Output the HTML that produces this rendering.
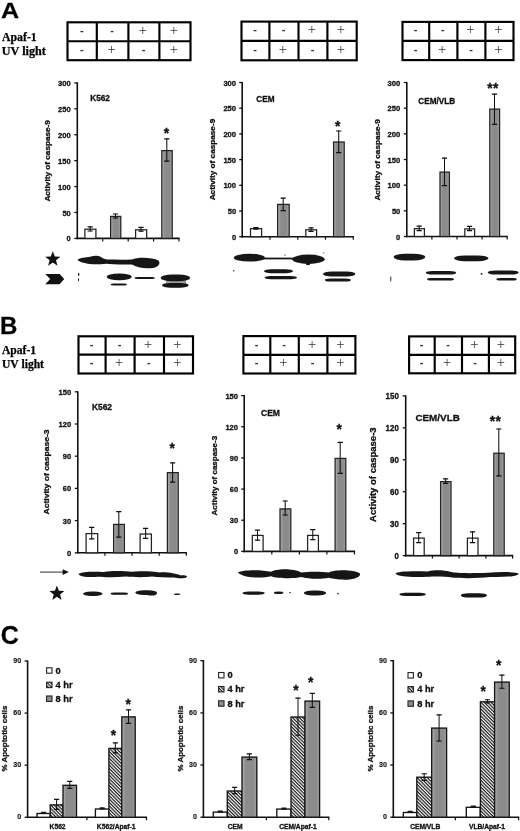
<!DOCTYPE html>
<html lang="en"><head><meta charset="utf-8"><title>Figure</title>
<style>html,body{margin:0;padding:0;background:#fff}svg{display:block}</style></head>
<body>
<svg width="520" height="831" viewBox="0 0 520 831">
<defs>
<linearGradient id="gbar" x1="0" x2="1" y1="0" y2="0">
<stop offset="0" stop-color="#b4b4b4"/><stop offset="0.28" stop-color="#8b8b8b"/><stop offset="0.75" stop-color="#8b8b8b"/><stop offset="1" stop-color="#a6a6a6"/>
</linearGradient>
<linearGradient id="gbar2" x1="0" x2="1" y1="0" y2="0">
<stop offset="0" stop-color="#b0b0b0"/><stop offset="0.25" stop-color="#8c8c8c"/><stop offset="0.78" stop-color="#8c8c8c"/><stop offset="1" stop-color="#a4a4a4"/>
</linearGradient>
<pattern id="hatch" width="2.4" height="2.4" patternUnits="userSpaceOnUse" patternTransform="rotate(45)">
<rect width="2.4" height="2.4" fill="#fff"/><rect width="2.4" height="1.2" fill="#1a1a1a"/>
</pattern>
<filter id="soft" x="-5%" y="-30%" width="110%" height="160%"><feGaussianBlur stdDeviation="0.5"/></filter>
</defs>
<rect width="520" height="831" fill="#fff"/>

<text transform="translate(0.9,18.4) scale(1.1,1)" font-family="Liberation Sans, sans-serif" font-weight="bold" stroke="#111" stroke-width="0.3" font-size="22.8" fill="#000">A</text>
<text transform="translate(-0.1,333.6) scale(1.0,1)" font-family="Liberation Sans, sans-serif" font-weight="bold" stroke="#111" stroke-width="0.3" font-size="24" fill="#000">B</text>
<text x="0.7" y="644" font-family="Liberation Sans, sans-serif" font-weight="bold" stroke="#111" stroke-width="0.3" font-size="25" fill="#000">C</text>
<text x="2" y="40.9" font-family="Liberation Serif, serif" font-weight="bold" stroke="#000" stroke-width="0.25" font-size="11.8" fill="#000">Apaf-1</text>
<text x="1.8" y="55.1" font-family="Liberation Serif, serif" font-weight="bold" stroke="#000" stroke-width="0.25" font-size="12.2" fill="#000">UV light</text>
<text x="2" y="354.3" font-family="Liberation Serif, serif" font-weight="bold" stroke="#000" stroke-width="0.25" font-size="11.6" fill="#000">Apaf-1</text>
<text x="2" y="368.4" font-family="Liberation Serif, serif" font-weight="bold" stroke="#000" stroke-width="0.25" font-size="11.6" fill="#000">UV light</text>
<rect x="67.5" y="22.3" width="123.0" height="37.9" fill="#fff" stroke="#000" stroke-width="2.15"/>
<line x1="96.8" y1="22.3" x2="96.8" y2="60.2" stroke="#000" stroke-width="2.15"/>
<line x1="128.4" y1="22.3" x2="128.4" y2="60.2" stroke="#000" stroke-width="2.15"/>
<line x1="159.4" y1="22.3" x2="159.4" y2="60.2" stroke="#000" stroke-width="2.15"/>
<line x1="67.5" y1="41.2" x2="190.5" y2="41.2" stroke="#000" stroke-width="2.15"/>
<text x="81.8" y="33.8" font-family="Liberation Sans, sans-serif" font-weight="bold" font-size="11" text-anchor="middle" fill="#333">-</text>
<text x="112.2" y="33.8" font-family="Liberation Sans, sans-serif" font-weight="bold" font-size="11" text-anchor="middle" fill="#333">-</text>
<text x="142.8" y="34.8" font-family="Liberation Serif, serif" font-size="14.5" text-anchor="middle" fill="#333">+</text>
<text x="173.8" y="34.8" font-family="Liberation Serif, serif" font-size="14.5" text-anchor="middle" fill="#333">+</text>
<text x="81.8" y="52.7" font-family="Liberation Sans, sans-serif" font-weight="bold" font-size="11" text-anchor="middle" fill="#333">-</text>
<text x="111.5" y="53.7" font-family="Liberation Serif, serif" font-size="14.5" text-anchor="middle" fill="#333">+</text>
<text x="143.5" y="52.7" font-family="Liberation Sans, sans-serif" font-weight="bold" font-size="11" text-anchor="middle" fill="#333">-</text>
<text x="173.8" y="53.7" font-family="Liberation Serif, serif" font-size="14.5" text-anchor="middle" fill="#333">+</text>
<rect x="241.5" y="21.6" width="115.2" height="38.7" fill="#fff" stroke="#000" stroke-width="2.15"/>
<line x1="269.4" y1="21.6" x2="269.4" y2="60.3" stroke="#000" stroke-width="2.15"/>
<line x1="298.5" y1="21.6" x2="298.5" y2="60.3" stroke="#000" stroke-width="2.15"/>
<line x1="327.4" y1="21.6" x2="327.4" y2="60.3" stroke="#000" stroke-width="2.15"/>
<line x1="241.5" y1="40.8" x2="356.7" y2="40.8" stroke="#000" stroke-width="2.15"/>
<text x="255.0" y="33.2" font-family="Liberation Sans, sans-serif" font-weight="bold" font-size="11" text-anchor="middle" fill="#333">-</text>
<text x="283.6" y="33.2" font-family="Liberation Sans, sans-serif" font-weight="bold" font-size="11" text-anchor="middle" fill="#333">-</text>
<text x="311.8" y="34.2" font-family="Liberation Serif, serif" font-size="14.5" text-anchor="middle" fill="#333">+</text>
<text x="340.9" y="34.2" font-family="Liberation Serif, serif" font-size="14.5" text-anchor="middle" fill="#333">+</text>
<text x="255.0" y="52.5" font-family="Liberation Sans, sans-serif" font-weight="bold" font-size="11" text-anchor="middle" fill="#333">-</text>
<text x="282.8" y="53.5" font-family="Liberation Serif, serif" font-size="14.5" text-anchor="middle" fill="#333">+</text>
<text x="312.6" y="52.5" font-family="Liberation Sans, sans-serif" font-weight="bold" font-size="11" text-anchor="middle" fill="#333">-</text>
<text x="340.9" y="53.5" font-family="Liberation Serif, serif" font-size="14.5" text-anchor="middle" fill="#333">+</text>
<rect x="402.5" y="21.9" width="111.0" height="38.2" fill="#fff" stroke="#000" stroke-width="2.15"/>
<line x1="429.2" y1="21.9" x2="429.2" y2="60.1" stroke="#000" stroke-width="2.15"/>
<line x1="457.4" y1="21.9" x2="457.4" y2="60.1" stroke="#000" stroke-width="2.15"/>
<line x1="485.4" y1="21.9" x2="485.4" y2="60.1" stroke="#000" stroke-width="2.15"/>
<line x1="402.5" y1="40.9" x2="513.5" y2="40.9" stroke="#000" stroke-width="2.15"/>
<text x="415.5" y="33.4" font-family="Liberation Sans, sans-serif" font-weight="bold" font-size="11" text-anchor="middle" fill="#333">-</text>
<text x="442.9" y="33.4" font-family="Liberation Sans, sans-serif" font-weight="bold" font-size="11" text-anchor="middle" fill="#333">-</text>
<text x="470.3" y="34.4" font-family="Liberation Serif, serif" font-size="14.5" text-anchor="middle" fill="#333">+</text>
<text x="498.3" y="34.4" font-family="Liberation Serif, serif" font-size="14.5" text-anchor="middle" fill="#333">+</text>
<text x="415.5" y="52.5" font-family="Liberation Sans, sans-serif" font-weight="bold" font-size="11" text-anchor="middle" fill="#333">-</text>
<text x="442.2" y="53.5" font-family="Liberation Serif, serif" font-size="14.5" text-anchor="middle" fill="#333">+</text>
<text x="471.0" y="52.5" font-family="Liberation Sans, sans-serif" font-weight="bold" font-size="11" text-anchor="middle" fill="#333">-</text>
<text x="498.3" y="53.5" font-family="Liberation Serif, serif" font-size="14.5" text-anchor="middle" fill="#333">+</text>
<rect x="78.5" y="336.3" width="114.5" height="37.2" fill="#fff" stroke="#000" stroke-width="2.15"/>
<line x1="105.6" y1="336.3" x2="105.6" y2="373.5" stroke="#000" stroke-width="2.15"/>
<line x1="134.6" y1="336.3" x2="134.6" y2="373.5" stroke="#000" stroke-width="2.15"/>
<line x1="164" y1="336.3" x2="164" y2="373.5" stroke="#000" stroke-width="2.15"/>
<line x1="78.5" y1="354.6" x2="193" y2="354.6" stroke="#000" stroke-width="2.15"/>
<text x="91.6" y="347.5" font-family="Liberation Sans, sans-serif" font-weight="bold" font-size="11" text-anchor="middle" fill="#333">-</text>
<text x="119.7" y="347.5" font-family="Liberation Sans, sans-serif" font-weight="bold" font-size="11" text-anchor="middle" fill="#333">-</text>
<text x="148.2" y="348.5" font-family="Liberation Serif, serif" font-size="14.5" text-anchor="middle" fill="#333">+</text>
<text x="177.4" y="348.5" font-family="Liberation Serif, serif" font-size="14.5" text-anchor="middle" fill="#333">+</text>
<text x="91.6" y="366.1" font-family="Liberation Sans, sans-serif" font-weight="bold" font-size="11" text-anchor="middle" fill="#333">-</text>
<text x="119.0" y="367.1" font-family="Liberation Serif, serif" font-size="14.5" text-anchor="middle" fill="#333">+</text>
<text x="148.9" y="366.1" font-family="Liberation Sans, sans-serif" font-weight="bold" font-size="11" text-anchor="middle" fill="#333">-</text>
<text x="177.4" y="367.1" font-family="Liberation Serif, serif" font-size="14.5" text-anchor="middle" fill="#333">+</text>
<rect x="243.4" y="336.1" width="112.0" height="37.4" fill="#fff" stroke="#000" stroke-width="2.15"/>
<line x1="270.3" y1="336.1" x2="270.3" y2="373.5" stroke="#000" stroke-width="2.15"/>
<line x1="298.8" y1="336.1" x2="298.8" y2="373.5" stroke="#000" stroke-width="2.15"/>
<line x1="327.4" y1="336.1" x2="327.4" y2="373.5" stroke="#000" stroke-width="2.15"/>
<line x1="243.4" y1="354.9" x2="355.4" y2="354.9" stroke="#000" stroke-width="2.15"/>
<text x="256.5" y="347.5" font-family="Liberation Sans, sans-serif" font-weight="bold" font-size="11" text-anchor="middle" fill="#333">-</text>
<text x="284.2" y="347.5" font-family="Liberation Sans, sans-serif" font-weight="bold" font-size="11" text-anchor="middle" fill="#333">-</text>
<text x="312.0" y="348.5" font-family="Liberation Serif, serif" font-size="14.5" text-anchor="middle" fill="#333">+</text>
<text x="340.3" y="348.5" font-family="Liberation Serif, serif" font-size="14.5" text-anchor="middle" fill="#333">+</text>
<text x="256.5" y="366.2" font-family="Liberation Sans, sans-serif" font-weight="bold" font-size="11" text-anchor="middle" fill="#333">-</text>
<text x="283.4" y="367.2" font-family="Liberation Serif, serif" font-size="14.5" text-anchor="middle" fill="#333">+</text>
<text x="312.7" y="366.2" font-family="Liberation Sans, sans-serif" font-weight="bold" font-size="11" text-anchor="middle" fill="#333">-</text>
<text x="340.3" y="367.2" font-family="Liberation Serif, serif" font-size="14.5" text-anchor="middle" fill="#333">+</text>
<rect x="409.1" y="336.4" width="106.1" height="36.9" fill="#fff" stroke="#000" stroke-width="2.15"/>
<line x1="434.7" y1="336.4" x2="434.7" y2="373.3" stroke="#000" stroke-width="2.15"/>
<line x1="462" y1="336.4" x2="462" y2="373.3" stroke="#000" stroke-width="2.15"/>
<line x1="488.9" y1="336.4" x2="488.9" y2="373.3" stroke="#000" stroke-width="2.15"/>
<line x1="409.1" y1="354.8" x2="515.2" y2="354.8" stroke="#000" stroke-width="2.15"/>
<text x="421.5" y="347.6" font-family="Liberation Sans, sans-serif" font-weight="bold" font-size="11" text-anchor="middle" fill="#333">-</text>
<text x="448.0" y="347.6" font-family="Liberation Sans, sans-serif" font-weight="bold" font-size="11" text-anchor="middle" fill="#333">-</text>
<text x="474.3" y="348.6" font-family="Liberation Serif, serif" font-size="14.5" text-anchor="middle" fill="#333">+</text>
<text x="500.9" y="348.6" font-family="Liberation Serif, serif" font-size="14.5" text-anchor="middle" fill="#333">+</text>
<text x="421.5" y="366.1" font-family="Liberation Sans, sans-serif" font-weight="bold" font-size="11" text-anchor="middle" fill="#333">-</text>
<text x="447.2" y="367.1" font-family="Liberation Serif, serif" font-size="14.5" text-anchor="middle" fill="#333">+</text>
<text x="475.1" y="366.1" font-family="Liberation Sans, sans-serif" font-weight="bold" font-size="11" text-anchor="middle" fill="#333">-</text>
<text x="500.9" y="367.1" font-family="Liberation Serif, serif" font-size="14.5" text-anchor="middle" fill="#333">+</text>
<line x1="77.3" y1="82.30000000000001" x2="77.3" y2="239.20000000000002" stroke="#111" stroke-width="1.6"/>
<line x1="76.5" y1="238.4" x2="179.6" y2="238.4" stroke="#111" stroke-width="1.6"/>
<line x1="74.3" y1="82.9" x2="77.3" y2="82.9" stroke="#111" stroke-width="1.3"/>
<text x="58.1" y="85.9" font-family="Liberation Sans, sans-serif" font-weight="bold" stroke="#111" stroke-width="0.3" font-size="8.1" textLength="12.7" lengthAdjust="spacingAndGlyphs" fill="#111">300</text>
<line x1="74.3" y1="108.82" x2="77.3" y2="108.82" stroke="#111" stroke-width="1.3"/>
<text x="58.1" y="111.8" font-family="Liberation Sans, sans-serif" font-weight="bold" stroke="#111" stroke-width="0.3" font-size="8.1" textLength="12.7" lengthAdjust="spacingAndGlyphs" fill="#111">250</text>
<line x1="74.3" y1="134.73" x2="77.3" y2="134.73" stroke="#111" stroke-width="1.3"/>
<text x="58.1" y="137.7" font-family="Liberation Sans, sans-serif" font-weight="bold" stroke="#111" stroke-width="0.3" font-size="8.1" textLength="12.7" lengthAdjust="spacingAndGlyphs" fill="#111">200</text>
<line x1="74.3" y1="160.65" x2="77.3" y2="160.65" stroke="#111" stroke-width="1.3"/>
<text x="58.1" y="163.7" font-family="Liberation Sans, sans-serif" font-weight="bold" stroke="#111" stroke-width="0.3" font-size="8.1" textLength="12.7" lengthAdjust="spacingAndGlyphs" fill="#111">150</text>
<line x1="74.3" y1="186.57" x2="77.3" y2="186.57" stroke="#111" stroke-width="1.3"/>
<text x="58.1" y="189.6" font-family="Liberation Sans, sans-serif" font-weight="bold" stroke="#111" stroke-width="0.3" font-size="8.1" textLength="12.7" lengthAdjust="spacingAndGlyphs" fill="#111">100</text>
<line x1="74.3" y1="212.48" x2="77.3" y2="212.48" stroke="#111" stroke-width="1.3"/>
<text x="62.4" y="215.5" font-family="Liberation Sans, sans-serif" font-weight="bold" stroke="#111" stroke-width="0.3" font-size="8.1" textLength="8.4" lengthAdjust="spacingAndGlyphs" fill="#111">50</text>
<line x1="74.3" y1="238.4" x2="77.3" y2="238.4" stroke="#111" stroke-width="1.3"/>
<text x="66.6" y="241.4" font-family="Liberation Sans, sans-serif" font-weight="bold" stroke="#111" stroke-width="0.3" font-size="8.1" textLength="4.2" lengthAdjust="spacingAndGlyphs" fill="#111">0</text>
<line x1="102.7" y1="238.4" x2="102.7" y2="241.4" stroke="#111" stroke-width="1.2"/>
<line x1="128.2" y1="238.4" x2="128.2" y2="241.4" stroke="#111" stroke-width="1.2"/>
<line x1="153.6" y1="238.4" x2="153.6" y2="241.4" stroke="#111" stroke-width="1.2"/>
<line x1="179.0" y1="238.4" x2="179.0" y2="241.4" stroke="#111" stroke-width="1.2"/>
<rect x="84.9" y="229.2" width="11.0" height="9.2" fill="#fff" stroke="#222" stroke-width="1.25"/>
<path d="M90.2 226.4V231.4" stroke="#111" stroke-width="1.05" fill="none"/><path d="M87.6 226.8H92.8M87.6 231.0H92.8" stroke="#111" stroke-width="1.2" fill="none"/>
<rect x="110.6" y="216.4" width="10.2" height="22.0" fill="url(#gbar)" stroke="#222" stroke-width="1.25"/>
<path d="M115.5 213.6V218.4" stroke="#111" stroke-width="1.05" fill="none"/><path d="M112.9 214.0H118.1M112.9 218.0H118.1" stroke="#111" stroke-width="1.2" fill="none"/>
<rect x="135.6" y="229.8" width="11.1" height="8.6" fill="#fff" stroke="#222" stroke-width="1.25"/>
<path d="M141.0 227.0V231.6" stroke="#111" stroke-width="1.05" fill="none"/><path d="M138.4 227.4H143.6M138.4 231.2H143.6" stroke="#111" stroke-width="1.2" fill="none"/>
<rect x="161.8" y="150.6" width="10.4" height="87.8" fill="url(#gbar)" stroke="#222" stroke-width="1.25"/>
<path d="M166.8 138.5V161.5" stroke="#111" stroke-width="1.05" fill="none"/><path d="M164.2 138.9H169.4M164.2 161.1H169.4" stroke="#111" stroke-width="1.2" fill="none"/>
<text x="90.3" y="101.4" font-family="Liberation Sans, sans-serif" font-weight="bold" stroke="#111" stroke-width="0.3" font-size="8.2" fill="#111">K562</text>
<text transform="translate(50.4,201.6) rotate(-90)" font-family="Liberation Sans, sans-serif" font-weight="bold" stroke="#111" stroke-width="0.3" font-size="7.8" textLength="81.5" lengthAdjust="spacingAndGlyphs" fill="#111">Activity of caspase-9</text>
<text x="166.6" y="138.2" font-family="Liberation Sans, sans-serif" font-weight="bold" stroke="#111" stroke-width="0.3" font-size="13.8" letter-spacing="0.4" text-anchor="middle" fill="#111">*</text>
<line x1="242.2" y1="81.9" x2="242.2" y2="237.5" stroke="#111" stroke-width="1.6"/>
<line x1="241.39999999999998" y1="236.7" x2="353.90000000000003" y2="236.7" stroke="#111" stroke-width="1.6"/>
<line x1="239.2" y1="82.5" x2="242.2" y2="82.5" stroke="#111" stroke-width="1.3"/>
<text x="223.4" y="85.5" font-family="Liberation Sans, sans-serif" font-weight="bold" stroke="#111" stroke-width="0.3" font-size="8.1" textLength="12.7" lengthAdjust="spacingAndGlyphs" fill="#111">300</text>
<line x1="239.2" y1="108.2" x2="242.2" y2="108.2" stroke="#111" stroke-width="1.3"/>
<text x="223.4" y="111.2" font-family="Liberation Sans, sans-serif" font-weight="bold" stroke="#111" stroke-width="0.3" font-size="8.1" textLength="12.7" lengthAdjust="spacingAndGlyphs" fill="#111">250</text>
<line x1="239.2" y1="133.9" x2="242.2" y2="133.9" stroke="#111" stroke-width="1.3"/>
<text x="223.4" y="136.9" font-family="Liberation Sans, sans-serif" font-weight="bold" stroke="#111" stroke-width="0.3" font-size="8.1" textLength="12.7" lengthAdjust="spacingAndGlyphs" fill="#111">200</text>
<line x1="239.2" y1="159.6" x2="242.2" y2="159.6" stroke="#111" stroke-width="1.3"/>
<text x="223.4" y="162.6" font-family="Liberation Sans, sans-serif" font-weight="bold" stroke="#111" stroke-width="0.3" font-size="8.1" textLength="12.7" lengthAdjust="spacingAndGlyphs" fill="#111">150</text>
<line x1="239.2" y1="185.3" x2="242.2" y2="185.3" stroke="#111" stroke-width="1.3"/>
<text x="223.4" y="188.3" font-family="Liberation Sans, sans-serif" font-weight="bold" stroke="#111" stroke-width="0.3" font-size="8.1" textLength="12.7" lengthAdjust="spacingAndGlyphs" fill="#111">100</text>
<line x1="239.2" y1="211.0" x2="242.2" y2="211.0" stroke="#111" stroke-width="1.3"/>
<text x="227.7" y="214.0" font-family="Liberation Sans, sans-serif" font-weight="bold" stroke="#111" stroke-width="0.3" font-size="8.1" textLength="8.4" lengthAdjust="spacingAndGlyphs" fill="#111">50</text>
<line x1="239.2" y1="236.7" x2="242.2" y2="236.7" stroke="#111" stroke-width="1.3"/>
<text x="231.9" y="239.7" font-family="Liberation Sans, sans-serif" font-weight="bold" stroke="#111" stroke-width="0.3" font-size="8.1" textLength="4.2" lengthAdjust="spacingAndGlyphs" fill="#111">0</text>
<line x1="270.0" y1="236.7" x2="270.0" y2="239.7" stroke="#111" stroke-width="1.2"/>
<line x1="297.8" y1="236.7" x2="297.8" y2="239.7" stroke="#111" stroke-width="1.2"/>
<line x1="325.5" y1="236.7" x2="325.5" y2="239.7" stroke="#111" stroke-width="1.2"/>
<line x1="353.3" y1="236.7" x2="353.3" y2="239.7" stroke="#111" stroke-width="1.2"/>
<rect x="250.5" y="228.6" width="11.1" height="8.1" fill="#fff" stroke="#222" stroke-width="1.25"/>
<path d="M255.9 227.1V229.5" stroke="#111" stroke-width="1.05" fill="none"/><path d="M253.3 227.5H258.5M253.3 229.1H258.5" stroke="#111" stroke-width="1.2" fill="none"/>
<rect x="277.6" y="204.4" width="11.6" height="32.3" fill="url(#gbar)" stroke="#222" stroke-width="1.25"/>
<path d="M283.2 197.7V211.0" stroke="#111" stroke-width="1.05" fill="none"/><path d="M280.6 198.1H285.8M280.6 210.6H285.8" stroke="#111" stroke-width="1.2" fill="none"/>
<rect x="305.8" y="229.8" width="10.8" height="6.9" fill="#fff" stroke="#222" stroke-width="1.25"/>
<path d="M311.0 227.4V231.8" stroke="#111" stroke-width="1.05" fill="none"/><path d="M308.4 227.8H313.6M308.4 231.4H313.6" stroke="#111" stroke-width="1.2" fill="none"/>
<rect x="333.6" y="142.0" width="10.6" height="94.7" fill="url(#gbar)" stroke="#222" stroke-width="1.25"/>
<path d="M338.7 130.6V153.0" stroke="#111" stroke-width="1.05" fill="none"/><path d="M336.1 131.0H341.3M336.1 152.6H341.3" stroke="#111" stroke-width="1.2" fill="none"/>
<text x="256.3" y="101.8" font-family="Liberation Sans, sans-serif" font-weight="bold" stroke="#111" stroke-width="0.3" font-size="8.2" fill="#111">CEM</text>
<text transform="translate(215.1,200.3) rotate(-90)" font-family="Liberation Sans, sans-serif" font-weight="bold" stroke="#111" stroke-width="0.3" font-size="7.8" textLength="81.5" lengthAdjust="spacingAndGlyphs" fill="#111">Activity of caspase-9</text>
<text x="337.9" y="131.1" font-family="Liberation Sans, sans-serif" font-weight="bold" stroke="#111" stroke-width="0.3" font-size="13.8" letter-spacing="0.4" text-anchor="middle" fill="#111">*</text>
<line x1="406.8" y1="81.9" x2="406.8" y2="237.3" stroke="#111" stroke-width="1.6"/>
<line x1="406.0" y1="236.5" x2="507.8" y2="236.5" stroke="#111" stroke-width="1.6"/>
<line x1="403.8" y1="82.5" x2="406.8" y2="82.5" stroke="#111" stroke-width="1.3"/>
<text x="387.6" y="85.5" font-family="Liberation Sans, sans-serif" font-weight="bold" stroke="#111" stroke-width="0.3" font-size="8.1" textLength="12.7" lengthAdjust="spacingAndGlyphs" fill="#111">300</text>
<line x1="403.8" y1="108.17" x2="406.8" y2="108.17" stroke="#111" stroke-width="1.3"/>
<text x="387.6" y="111.2" font-family="Liberation Sans, sans-serif" font-weight="bold" stroke="#111" stroke-width="0.3" font-size="8.1" textLength="12.7" lengthAdjust="spacingAndGlyphs" fill="#111">250</text>
<line x1="403.8" y1="133.83" x2="406.8" y2="133.83" stroke="#111" stroke-width="1.3"/>
<text x="387.6" y="136.8" font-family="Liberation Sans, sans-serif" font-weight="bold" stroke="#111" stroke-width="0.3" font-size="8.1" textLength="12.7" lengthAdjust="spacingAndGlyphs" fill="#111">200</text>
<line x1="403.8" y1="159.5" x2="406.8" y2="159.5" stroke="#111" stroke-width="1.3"/>
<text x="387.6" y="162.5" font-family="Liberation Sans, sans-serif" font-weight="bold" stroke="#111" stroke-width="0.3" font-size="8.1" textLength="12.7" lengthAdjust="spacingAndGlyphs" fill="#111">150</text>
<line x1="403.8" y1="185.17" x2="406.8" y2="185.17" stroke="#111" stroke-width="1.3"/>
<text x="387.6" y="188.2" font-family="Liberation Sans, sans-serif" font-weight="bold" stroke="#111" stroke-width="0.3" font-size="8.1" textLength="12.7" lengthAdjust="spacingAndGlyphs" fill="#111">100</text>
<line x1="403.8" y1="210.83" x2="406.8" y2="210.83" stroke="#111" stroke-width="1.3"/>
<text x="391.9" y="213.8" font-family="Liberation Sans, sans-serif" font-weight="bold" stroke="#111" stroke-width="0.3" font-size="8.1" textLength="8.4" lengthAdjust="spacingAndGlyphs" fill="#111">50</text>
<line x1="403.8" y1="236.5" x2="406.8" y2="236.5" stroke="#111" stroke-width="1.3"/>
<text x="396.1" y="239.5" font-family="Liberation Sans, sans-serif" font-weight="bold" stroke="#111" stroke-width="0.3" font-size="8.1" textLength="4.2" lengthAdjust="spacingAndGlyphs" fill="#111">0</text>
<line x1="431.9" y1="236.5" x2="431.9" y2="239.5" stroke="#111" stroke-width="1.2"/>
<line x1="457.0" y1="236.5" x2="457.0" y2="239.5" stroke="#111" stroke-width="1.2"/>
<line x1="482.1" y1="236.5" x2="482.1" y2="239.5" stroke="#111" stroke-width="1.2"/>
<line x1="507.2" y1="236.5" x2="507.2" y2="239.5" stroke="#111" stroke-width="1.2"/>
<rect x="414.4" y="228.7" width="10.0" height="7.8" fill="#fff" stroke="#222" stroke-width="1.25"/>
<path d="M419.2 225.8V231.0" stroke="#111" stroke-width="1.05" fill="none"/><path d="M416.6 226.2H421.8M416.6 230.6H421.8" stroke="#111" stroke-width="1.2" fill="none"/>
<rect x="440.0" y="172.1" width="9.4" height="64.4" fill="url(#gbar)" stroke="#222" stroke-width="1.25"/>
<path d="M444.5 157.7V186.0" stroke="#111" stroke-width="1.05" fill="none"/><path d="M441.9 158.1H447.1M441.9 185.6H447.1" stroke="#111" stroke-width="1.2" fill="none"/>
<rect x="464.8" y="228.9" width="9.8" height="7.6" fill="#fff" stroke="#222" stroke-width="1.25"/>
<path d="M469.5 226.0V231.0" stroke="#111" stroke-width="1.05" fill="none"/><path d="M466.9 226.4H472.1M466.9 230.6H472.1" stroke="#111" stroke-width="1.2" fill="none"/>
<rect x="489.8" y="109.1" width="9.8" height="127.4" fill="url(#gbar)" stroke="#222" stroke-width="1.25"/>
<path d="M494.5 93.7V124.8" stroke="#111" stroke-width="1.05" fill="none"/><path d="M491.9 94.1H497.1M491.9 124.4H497.1" stroke="#111" stroke-width="1.2" fill="none"/>
<text x="418.3" y="103.9" font-family="Liberation Sans, sans-serif" font-weight="bold" stroke="#111" stroke-width="0.3" font-size="8.2" fill="#111">CEM/VLB</text>
<text transform="translate(380.2,200.6) rotate(-90)" font-family="Liberation Sans, sans-serif" font-weight="bold" stroke="#111" stroke-width="0.3" font-size="7.8" textLength="81.5" lengthAdjust="spacingAndGlyphs" fill="#111">Activity of caspase-9</text>
<text x="493.1" y="92.6" font-family="Liberation Sans, sans-serif" font-weight="bold" stroke="#111" stroke-width="0.3" font-size="13.8" letter-spacing="0.4" text-anchor="middle" fill="#111">**</text>
<line x1="77.8" y1="391.2" x2="77.8" y2="553.5999999999999" stroke="#111" stroke-width="1.6"/>
<line x1="77.0" y1="552.8" x2="186.9" y2="552.8" stroke="#111" stroke-width="1.6"/>
<line x1="74.8" y1="391.8" x2="77.8" y2="391.8" stroke="#111" stroke-width="1.3"/>
<text x="58.5" y="394.8" font-family="Liberation Sans, sans-serif" font-weight="bold" stroke="#111" stroke-width="0.3" font-size="8.1" textLength="12.7" lengthAdjust="spacingAndGlyphs" fill="#111">150</text>
<line x1="74.8" y1="424.0" x2="77.8" y2="424.0" stroke="#111" stroke-width="1.3"/>
<text x="58.5" y="427.0" font-family="Liberation Sans, sans-serif" font-weight="bold" stroke="#111" stroke-width="0.3" font-size="8.1" textLength="12.7" lengthAdjust="spacingAndGlyphs" fill="#111">120</text>
<line x1="74.8" y1="456.2" x2="77.8" y2="456.2" stroke="#111" stroke-width="1.3"/>
<text x="62.8" y="459.2" font-family="Liberation Sans, sans-serif" font-weight="bold" stroke="#111" stroke-width="0.3" font-size="8.1" textLength="8.4" lengthAdjust="spacingAndGlyphs" fill="#111">90</text>
<line x1="74.8" y1="488.4" x2="77.8" y2="488.4" stroke="#111" stroke-width="1.3"/>
<text x="62.8" y="491.4" font-family="Liberation Sans, sans-serif" font-weight="bold" stroke="#111" stroke-width="0.3" font-size="8.1" textLength="8.4" lengthAdjust="spacingAndGlyphs" fill="#111">60</text>
<line x1="74.8" y1="520.6" x2="77.8" y2="520.6" stroke="#111" stroke-width="1.3"/>
<text x="62.8" y="523.6" font-family="Liberation Sans, sans-serif" font-weight="bold" stroke="#111" stroke-width="0.3" font-size="8.1" textLength="8.4" lengthAdjust="spacingAndGlyphs" fill="#111">30</text>
<line x1="74.8" y1="552.8" x2="77.8" y2="552.8" stroke="#111" stroke-width="1.3"/>
<text x="67.0" y="555.8" font-family="Liberation Sans, sans-serif" font-weight="bold" stroke="#111" stroke-width="0.3" font-size="8.1" textLength="4.2" lengthAdjust="spacingAndGlyphs" fill="#111">0</text>
<line x1="104.9" y1="552.8" x2="104.9" y2="555.8" stroke="#111" stroke-width="1.2"/>
<line x1="132.1" y1="552.8" x2="132.1" y2="555.8" stroke="#111" stroke-width="1.2"/>
<line x1="159.2" y1="552.8" x2="159.2" y2="555.8" stroke="#111" stroke-width="1.2"/>
<line x1="186.3" y1="552.8" x2="186.3" y2="555.8" stroke="#111" stroke-width="1.2"/>
<rect x="86.1" y="533.6" width="11.6" height="19.2" fill="#fff" stroke="#222" stroke-width="1.25"/>
<path d="M91.7 527.0V539.3" stroke="#111" stroke-width="1.05" fill="none"/><path d="M89.1 527.4H94.3M89.1 538.9H94.3" stroke="#111" stroke-width="1.2" fill="none"/>
<rect x="113.6" y="524.4" width="10.8" height="28.4" fill="url(#gbar)" stroke="#222" stroke-width="1.25"/>
<path d="M118.8 511.3V537.5" stroke="#111" stroke-width="1.05" fill="none"/><path d="M116.2 511.7H121.4M116.2 537.1H121.4" stroke="#111" stroke-width="1.2" fill="none"/>
<rect x="140.1" y="534.0" width="11.3" height="18.8" fill="#fff" stroke="#222" stroke-width="1.25"/>
<path d="M145.6 528.0V538.8" stroke="#111" stroke-width="1.05" fill="none"/><path d="M143.0 528.4H148.2M143.0 538.4H148.2" stroke="#111" stroke-width="1.2" fill="none"/>
<rect x="167.4" y="472.6" width="10.8" height="80.2" fill="url(#gbar)" stroke="#222" stroke-width="1.25"/>
<path d="M172.6 462.5V482.5" stroke="#111" stroke-width="1.05" fill="none"/><path d="M170.0 462.9H175.2M170.0 482.1H175.2" stroke="#111" stroke-width="1.2" fill="none"/>
<text x="92" y="409.6" font-family="Liberation Sans, sans-serif" font-weight="bold" stroke="#111" stroke-width="0.3" font-size="8.4" fill="#111">K562</text>
<text transform="translate(48.8,514.5) rotate(-90)" font-family="Liberation Sans, sans-serif" font-weight="bold" stroke="#111" stroke-width="0.3" font-size="7.9" textLength="85" lengthAdjust="spacingAndGlyphs" fill="#111">Activity of caspase-3</text>
<text x="172.4" y="453.1" font-family="Liberation Sans, sans-serif" font-weight="bold" stroke="#111" stroke-width="0.3" font-size="13.8" letter-spacing="0.4" text-anchor="middle" fill="#111">*</text>
<line x1="244.2" y1="395.0" x2="244.2" y2="552.1999999999999" stroke="#111" stroke-width="1.6"/>
<line x1="243.39999999999998" y1="551.4" x2="355.1" y2="551.4" stroke="#111" stroke-width="1.6"/>
<line x1="241.2" y1="395.6" x2="244.2" y2="395.6" stroke="#111" stroke-width="1.3"/>
<text x="225.4" y="398.6" font-family="Liberation Sans, sans-serif" font-weight="bold" stroke="#111" stroke-width="0.3" font-size="8.1" textLength="12.7" lengthAdjust="spacingAndGlyphs" fill="#111">150</text>
<line x1="241.2" y1="426.76" x2="244.2" y2="426.76" stroke="#111" stroke-width="1.3"/>
<text x="225.4" y="429.8" font-family="Liberation Sans, sans-serif" font-weight="bold" stroke="#111" stroke-width="0.3" font-size="8.1" textLength="12.7" lengthAdjust="spacingAndGlyphs" fill="#111">120</text>
<line x1="241.2" y1="457.92" x2="244.2" y2="457.92" stroke="#111" stroke-width="1.3"/>
<text x="229.7" y="460.9" font-family="Liberation Sans, sans-serif" font-weight="bold" stroke="#111" stroke-width="0.3" font-size="8.1" textLength="8.4" lengthAdjust="spacingAndGlyphs" fill="#111">90</text>
<line x1="241.2" y1="489.08" x2="244.2" y2="489.08" stroke="#111" stroke-width="1.3"/>
<text x="229.7" y="492.1" font-family="Liberation Sans, sans-serif" font-weight="bold" stroke="#111" stroke-width="0.3" font-size="8.1" textLength="8.4" lengthAdjust="spacingAndGlyphs" fill="#111">60</text>
<line x1="241.2" y1="520.24" x2="244.2" y2="520.24" stroke="#111" stroke-width="1.3"/>
<text x="229.7" y="523.2" font-family="Liberation Sans, sans-serif" font-weight="bold" stroke="#111" stroke-width="0.3" font-size="8.1" textLength="8.4" lengthAdjust="spacingAndGlyphs" fill="#111">30</text>
<line x1="241.2" y1="551.4" x2="244.2" y2="551.4" stroke="#111" stroke-width="1.3"/>
<text x="233.9" y="554.4" font-family="Liberation Sans, sans-serif" font-weight="bold" stroke="#111" stroke-width="0.3" font-size="8.1" textLength="4.2" lengthAdjust="spacingAndGlyphs" fill="#111">0</text>
<line x1="271.8" y1="551.4" x2="271.8" y2="554.4" stroke="#111" stroke-width="1.2"/>
<line x1="299.4" y1="551.4" x2="299.4" y2="554.4" stroke="#111" stroke-width="1.2"/>
<line x1="326.9" y1="551.4" x2="326.9" y2="554.4" stroke="#111" stroke-width="1.2"/>
<line x1="354.5" y1="551.4" x2="354.5" y2="554.4" stroke="#111" stroke-width="1.2"/>
<rect x="252.3" y="535.4" width="10.8" height="16.0" fill="#fff" stroke="#222" stroke-width="1.25"/>
<path d="M257.5 529.8V540.6" stroke="#111" stroke-width="1.05" fill="none"/><path d="M254.9 530.2H260.1M254.9 540.2H260.1" stroke="#111" stroke-width="1.2" fill="none"/>
<rect x="280.0" y="508.9" width="10.8" height="42.5" fill="url(#gbar)" stroke="#222" stroke-width="1.25"/>
<path d="M285.2 500.6V515.4" stroke="#111" stroke-width="1.05" fill="none"/><path d="M282.6 501.0H287.8M282.6 515.0H287.8" stroke="#111" stroke-width="1.2" fill="none"/>
<rect x="307.6" y="535.4" width="10.8" height="16.0" fill="#fff" stroke="#222" stroke-width="1.25"/>
<path d="M312.8 529.2V540.0" stroke="#111" stroke-width="1.05" fill="none"/><path d="M310.2 529.6H315.4M310.2 539.6H315.4" stroke="#111" stroke-width="1.2" fill="none"/>
<rect x="335.1" y="458.4" width="10.7" height="93.0" fill="url(#gbar)" stroke="#222" stroke-width="1.25"/>
<path d="M340.2 442.0V473.8" stroke="#111" stroke-width="1.05" fill="none"/><path d="M337.6 442.4H342.9M337.6 473.4H342.9" stroke="#111" stroke-width="1.2" fill="none"/>
<text x="261" y="416" font-family="Liberation Sans, sans-serif" font-weight="bold" stroke="#111" stroke-width="0.3" font-size="8.5" fill="#111">CEM</text>
<text transform="translate(217.1,515.4) rotate(-90)" font-family="Liberation Sans, sans-serif" font-weight="bold" stroke="#111" stroke-width="0.3" font-size="7.7" textLength="79.5" lengthAdjust="spacingAndGlyphs" fill="#111">Activity of caspase-3</text>
<text x="339.4" y="434.0" font-family="Liberation Sans, sans-serif" font-weight="bold" stroke="#111" stroke-width="0.3" font-size="13.8" letter-spacing="0.4" text-anchor="middle" fill="#111">*</text>
<line x1="405.7" y1="395.29999999999995" x2="405.7" y2="556.4" stroke="#111" stroke-width="1.6"/>
<line x1="404.9" y1="555.6" x2="513.2" y2="555.6" stroke="#111" stroke-width="1.6"/>
<line x1="402.7" y1="395.9" x2="405.7" y2="395.9" stroke="#111" stroke-width="1.3"/>
<text x="385.6" y="398.9" font-family="Liberation Sans, sans-serif" font-weight="bold" stroke="#111" stroke-width="0.3" font-size="8.4" textLength="13.2" lengthAdjust="spacingAndGlyphs" fill="#111">150</text>
<line x1="402.7" y1="427.84" x2="405.7" y2="427.84" stroke="#111" stroke-width="1.3"/>
<text x="385.6" y="430.8" font-family="Liberation Sans, sans-serif" font-weight="bold" stroke="#111" stroke-width="0.3" font-size="8.4" textLength="13.2" lengthAdjust="spacingAndGlyphs" fill="#111">120</text>
<line x1="402.7" y1="459.78" x2="405.7" y2="459.78" stroke="#111" stroke-width="1.3"/>
<text x="390.0" y="462.8" font-family="Liberation Sans, sans-serif" font-weight="bold" stroke="#111" stroke-width="0.3" font-size="8.4" textLength="8.8" lengthAdjust="spacingAndGlyphs" fill="#111">90</text>
<line x1="402.7" y1="491.72" x2="405.7" y2="491.72" stroke="#111" stroke-width="1.3"/>
<text x="390.0" y="494.7" font-family="Liberation Sans, sans-serif" font-weight="bold" stroke="#111" stroke-width="0.3" font-size="8.4" textLength="8.8" lengthAdjust="spacingAndGlyphs" fill="#111">60</text>
<line x1="402.7" y1="523.66" x2="405.7" y2="523.66" stroke="#111" stroke-width="1.3"/>
<text x="390.0" y="526.7" font-family="Liberation Sans, sans-serif" font-weight="bold" stroke="#111" stroke-width="0.3" font-size="8.4" textLength="8.8" lengthAdjust="spacingAndGlyphs" fill="#111">30</text>
<line x1="402.7" y1="555.6" x2="405.7" y2="555.6" stroke="#111" stroke-width="1.3"/>
<text x="394.4" y="558.6" font-family="Liberation Sans, sans-serif" font-weight="bold" stroke="#111" stroke-width="0.3" font-size="8.4" textLength="4.4" lengthAdjust="spacingAndGlyphs" fill="#111">0</text>
<line x1="432.4" y1="555.6" x2="432.4" y2="558.6" stroke="#111" stroke-width="1.2"/>
<line x1="459.1" y1="555.6" x2="459.1" y2="558.6" stroke="#111" stroke-width="1.2"/>
<line x1="485.9" y1="555.6" x2="485.9" y2="558.6" stroke="#111" stroke-width="1.2"/>
<line x1="512.6" y1="555.6" x2="512.6" y2="558.6" stroke="#111" stroke-width="1.2"/>
<rect x="413.6" y="538.1" width="10.6" height="17.5" fill="#fff" stroke="#222" stroke-width="1.25"/>
<path d="M418.7 532.3V543.0" stroke="#111" stroke-width="1.05" fill="none"/><path d="M416.1 532.7H421.3M416.1 542.6H421.3" stroke="#111" stroke-width="1.2" fill="none"/>
<rect x="440.6" y="481.6" width="10.4" height="74.0" fill="url(#gbar)" stroke="#222" stroke-width="1.25"/>
<path d="M445.6 478.5V483.7" stroke="#111" stroke-width="1.05" fill="none"/><path d="M443.0 478.9H448.2M443.0 483.3H448.2" stroke="#111" stroke-width="1.2" fill="none"/>
<rect x="467.4" y="538.1" width="10.6" height="17.5" fill="#fff" stroke="#222" stroke-width="1.25"/>
<path d="M472.5 531.4V543.0" stroke="#111" stroke-width="1.05" fill="none"/><path d="M469.9 531.8H475.1M469.9 542.6H475.1" stroke="#111" stroke-width="1.2" fill="none"/>
<rect x="493.8" y="453.2" width="10.4" height="102.4" fill="url(#gbar)" stroke="#222" stroke-width="1.25"/>
<path d="M498.8 428.6V476.3" stroke="#111" stroke-width="1.05" fill="none"/><path d="M496.2 429.0H501.4M496.2 475.9H501.4" stroke="#111" stroke-width="1.2" fill="none"/>
<text x="415.4" y="421.4" font-family="Liberation Sans, sans-serif" font-weight="bold" stroke="#111" stroke-width="0.3" font-size="9.9" fill="#111">CEM/VLB</text>
<text transform="translate(376.2,521.9) rotate(-90)" font-family="Liberation Sans, sans-serif" font-weight="bold" stroke="#111" stroke-width="0.3" font-size="8.8" textLength="94.5" lengthAdjust="spacingAndGlyphs" fill="#111">Activity of caspase-3</text>
<text x="495.6" y="425.7" font-family="Liberation Sans, sans-serif" font-weight="bold" stroke="#111" stroke-width="0.3" font-size="13.8" letter-spacing="0.4" text-anchor="middle" fill="#111">**</text>
<line x1="27.6" y1="660.4" x2="27.6" y2="818.0999999999999" stroke="#111" stroke-width="1.6"/>
<line x1="26.8" y1="817.3" x2="147.1" y2="817.3" stroke="#111" stroke-width="1.6"/>
<line x1="24.6" y1="661.0" x2="27.6" y2="661.0" stroke="#111" stroke-width="1.3"/>
<text x="21.2" y="662.9" font-family="Liberation Sans, sans-serif" font-weight="bold" stroke="#111" stroke-width="0.12" font-size="7.1" text-anchor="end" fill="#111">90</text>
<line x1="24.6" y1="713.1" x2="27.6" y2="713.1" stroke="#111" stroke-width="1.3"/>
<text x="21.2" y="715.0" font-family="Liberation Sans, sans-serif" font-weight="bold" stroke="#111" stroke-width="0.12" font-size="7.1" text-anchor="end" fill="#111">60</text>
<line x1="24.6" y1="765.2" x2="27.6" y2="765.2" stroke="#111" stroke-width="1.3"/>
<text x="21.2" y="767.1" font-family="Liberation Sans, sans-serif" font-weight="bold" stroke="#111" stroke-width="0.12" font-size="7.1" text-anchor="end" fill="#111">30</text>
<line x1="24.6" y1="817.3" x2="27.6" y2="817.3" stroke="#111" stroke-width="1.3"/>
<text x="21.2" y="819.2" font-family="Liberation Sans, sans-serif" font-weight="bold" stroke="#111" stroke-width="0.12" font-size="7.1" text-anchor="end" fill="#111">0</text>
<line x1="86.9" y1="817.3" x2="86.9" y2="820.3" stroke="#111" stroke-width="1.2"/>
<line x1="146.5" y1="817.3" x2="146.5" y2="820.3" stroke="#111" stroke-width="1.2"/>
<rect x="37.0" y="813.5" width="13.2" height="3.8" fill="#fff" stroke="#151515" stroke-width="1.35"/>
<rect x="40.9" y="811.8" width="5.4" height="2.3" rx="0.8" fill="#151515"/>
<rect x="50.2" y="804.9" width="12.8" height="12.4" fill="url(#hatch)" stroke="#151515" stroke-width="1.35"/>
<path d="M56.6 799.0V809.8" stroke="#111" stroke-width="1" fill="none"/><path d="M54.0 799.4H59.2M54.0 809.4H59.2" stroke="#111" stroke-width="1.15" fill="none"/>
<rect x="63.0" y="785.3" width="13.5" height="32.0" fill="url(#gbar2)" stroke="#151515" stroke-width="1.35"/>
<path d="M69.8 781.0V788.8" stroke="#111" stroke-width="1" fill="none"/><path d="M67.2 781.4H72.3M67.2 788.4H72.3" stroke="#111" stroke-width="1.15" fill="none"/>
<rect x="95.4" y="809.0" width="13.5" height="8.3" fill="#fff" stroke="#151515" stroke-width="1.35"/>
<rect x="99.5" y="807.3" width="5.4" height="2.3" rx="0.8" fill="#151515"/>
<rect x="108.9" y="748.4" width="12.9" height="68.9" fill="url(#hatch)" stroke="#151515" stroke-width="1.35"/>
<path d="M115.3 742.5V753.3" stroke="#111" stroke-width="1" fill="none"/><path d="M112.8 742.9H117.9M112.8 752.9H117.9" stroke="#111" stroke-width="1.15" fill="none"/>
<rect x="121.8" y="716.9" width="13.4" height="100.4" fill="url(#gbar2)" stroke="#151515" stroke-width="1.35"/>
<path d="M128.5 709.4V723.7" stroke="#111" stroke-width="1" fill="none"/><path d="M125.9 709.8H131.1M125.9 723.3H131.1" stroke="#111" stroke-width="1.15" fill="none"/>
<text x="57.6" y="829.1" font-family="Liberation Sans, sans-serif" font-weight="bold" stroke="#111" stroke-width="0.3" font-size="6.7" text-anchor="middle" fill="#111">K562</text>
<text x="116.2" y="829.1" font-family="Liberation Sans, sans-serif" font-weight="bold" stroke="#111" stroke-width="0.3" font-size="6.7" text-anchor="middle" fill="#111">K562/Apaf-1</text>
<rect x="46.6" y="667.8" width="5.4" height="5.4" fill="#fff" stroke="#222" stroke-width="1.1"/>
<text x="55.6" y="673.5" font-family="Liberation Sans, sans-serif" font-weight="bold" stroke="#111" stroke-width="0.3" font-size="9.3" fill="#111">0</text>
<rect x="46.6" y="682.2" width="5.4" height="5.4" fill="url(#hatch)" stroke="#222" stroke-width="1.1"/>
<text x="55.6" y="687.9" font-family="Liberation Sans, sans-serif" font-weight="bold" stroke="#111" stroke-width="0.3" font-size="9.3" fill="#111">4 hr</text>
<rect x="46.6" y="696.0" width="5.4" height="5.4" fill="url(#gbar2)" stroke="#222" stroke-width="1.1"/>
<text x="55.6" y="701.7" font-family="Liberation Sans, sans-serif" font-weight="bold" stroke="#111" stroke-width="0.3" font-size="9.3" fill="#111">8 hr</text>
<text transform="translate(6.8,771.6) rotate(-90)" font-family="Liberation Sans, sans-serif" font-weight="bold" stroke="#111" stroke-width="0.3" font-size="7.5" textLength="66" lengthAdjust="spacingAndGlyphs" fill="#111">% Apoptotic cells</text>
<text x="113.4" y="740.1" font-family="Liberation Sans, sans-serif" font-weight="bold" stroke="#111" stroke-width="0.3" font-size="13.8" text-anchor="middle" fill="#111">*</text>
<text x="128.1" y="708.5" font-family="Liberation Sans, sans-serif" font-weight="bold" stroke="#111" stroke-width="0.3" font-size="13.8" text-anchor="middle" fill="#111">*</text>
<line x1="203.4" y1="660.1" x2="203.4" y2="818.0" stroke="#111" stroke-width="1.6"/>
<line x1="202.6" y1="817.2" x2="329.40000000000003" y2="817.2" stroke="#111" stroke-width="1.6"/>
<line x1="200.4" y1="660.7" x2="203.4" y2="660.7" stroke="#111" stroke-width="1.3"/>
<text x="197.0" y="662.6" font-family="Liberation Sans, sans-serif" font-weight="bold" stroke="#111" stroke-width="0.12" font-size="7.1" text-anchor="end" fill="#111">90</text>
<line x1="200.4" y1="712.9" x2="203.4" y2="712.9" stroke="#111" stroke-width="1.3"/>
<text x="197.0" y="714.8" font-family="Liberation Sans, sans-serif" font-weight="bold" stroke="#111" stroke-width="0.12" font-size="7.1" text-anchor="end" fill="#111">60</text>
<line x1="200.4" y1="765.0" x2="203.4" y2="765.0" stroke="#111" stroke-width="1.3"/>
<text x="197.0" y="766.9" font-family="Liberation Sans, sans-serif" font-weight="bold" stroke="#111" stroke-width="0.12" font-size="7.1" text-anchor="end" fill="#111">30</text>
<line x1="200.4" y1="817.2" x2="203.4" y2="817.2" stroke="#111" stroke-width="1.3"/>
<text x="197.0" y="819.1" font-family="Liberation Sans, sans-serif" font-weight="bold" stroke="#111" stroke-width="0.12" font-size="7.1" text-anchor="end" fill="#111">0</text>
<line x1="266.4" y1="817.2" x2="266.4" y2="820.2" stroke="#111" stroke-width="1.2"/>
<line x1="328.8" y1="817.2" x2="328.8" y2="820.2" stroke="#111" stroke-width="1.2"/>
<rect x="213.3" y="812.1" width="14.0" height="5.1" fill="#fff" stroke="#151515" stroke-width="1.35"/>
<rect x="217.6" y="810.4" width="5.4" height="2.3" rx="0.8" fill="#151515"/>
<rect x="227.3" y="791.0" width="14.7" height="26.2" fill="url(#hatch)" stroke="#151515" stroke-width="1.35"/>
<path d="M234.7 787.0V794.0" stroke="#111" stroke-width="1" fill="none"/><path d="M232.1 787.4H237.2M232.1 793.6H237.2" stroke="#111" stroke-width="1.15" fill="none"/>
<rect x="242.0" y="757.1" width="14.8" height="60.1" fill="url(#gbar2)" stroke="#151515" stroke-width="1.35"/>
<path d="M249.4 753.5V760.0" stroke="#111" stroke-width="1" fill="none"/><path d="M246.8 753.9H252.0M246.8 759.6H252.0" stroke="#111" stroke-width="1.15" fill="none"/>
<rect x="276.8" y="809.1" width="14.2" height="8.1" fill="#fff" stroke="#151515" stroke-width="1.35"/>
<rect x="281.2" y="807.4" width="5.4" height="2.3" rx="0.8" fill="#151515"/>
<rect x="291.0" y="717.0" width="14.0" height="100.2" fill="url(#hatch)" stroke="#151515" stroke-width="1.35"/>
<path d="M298.0 697.7V735.6" stroke="#111" stroke-width="1" fill="none"/><path d="M295.4 698.1H300.6M295.4 735.2H300.6" stroke="#111" stroke-width="1.15" fill="none"/>
<rect x="305.0" y="701.1" width="14.6" height="116.1" fill="url(#gbar2)" stroke="#151515" stroke-width="1.35"/>
<path d="M312.3 693.0V707.8" stroke="#111" stroke-width="1" fill="none"/><path d="M309.7 693.4H314.9M309.7 707.4H314.9" stroke="#111" stroke-width="1.15" fill="none"/>
<text x="235.2" y="829.1" font-family="Liberation Sans, sans-serif" font-weight="bold" stroke="#111" stroke-width="0.3" font-size="6.7" text-anchor="middle" fill="#111">CEM</text>
<text x="297.9" y="829.1" font-family="Liberation Sans, sans-serif" font-weight="bold" stroke="#111" stroke-width="0.3" font-size="6.7" text-anchor="middle" fill="#111">CEM/Apaf-1</text>
<rect x="218.6" y="672.5" width="5.4" height="5.4" fill="#fff" stroke="#222" stroke-width="1.1"/>
<text x="227.4" y="678.2" font-family="Liberation Sans, sans-serif" font-weight="bold" stroke="#111" stroke-width="0.3" font-size="9.3" fill="#111">0</text>
<rect x="218.6" y="686.5" width="5.4" height="5.4" fill="url(#hatch)" stroke="#222" stroke-width="1.1"/>
<text x="227.4" y="692.2" font-family="Liberation Sans, sans-serif" font-weight="bold" stroke="#111" stroke-width="0.3" font-size="9.3" fill="#111">4 hr</text>
<rect x="218.6" y="700.8" width="5.4" height="5.4" fill="url(#gbar2)" stroke="#222" stroke-width="1.1"/>
<text x="227.4" y="706.5" font-family="Liberation Sans, sans-serif" font-weight="bold" stroke="#111" stroke-width="0.3" font-size="9.3" fill="#111">8 hr</text>
<text transform="translate(183.3,771.6) rotate(-90)" font-family="Liberation Sans, sans-serif" font-weight="bold" stroke="#111" stroke-width="0.3" font-size="7.5" textLength="66" lengthAdjust="spacingAndGlyphs" fill="#111">% Apoptotic cells</text>
<text x="295.9" y="695.2" font-family="Liberation Sans, sans-serif" font-weight="bold" stroke="#111" stroke-width="0.3" font-size="13.8" text-anchor="middle" fill="#111">*</text>
<text x="310.8" y="687.0" font-family="Liberation Sans, sans-serif" font-weight="bold" stroke="#111" stroke-width="0.3" font-size="13.8" text-anchor="middle" fill="#111">*</text>
<line x1="393.3" y1="660.1" x2="393.3" y2="818.0" stroke="#111" stroke-width="1.6"/>
<line x1="392.5" y1="817.2" x2="519.2" y2="817.2" stroke="#111" stroke-width="1.6"/>
<line x1="390.3" y1="660.7" x2="393.3" y2="660.7" stroke="#111" stroke-width="1.3"/>
<text x="386.9" y="662.6" font-family="Liberation Sans, sans-serif" font-weight="bold" stroke="#111" stroke-width="0.12" font-size="7.1" text-anchor="end" fill="#111">90</text>
<line x1="390.3" y1="712.9" x2="393.3" y2="712.9" stroke="#111" stroke-width="1.3"/>
<text x="386.9" y="714.8" font-family="Liberation Sans, sans-serif" font-weight="bold" stroke="#111" stroke-width="0.12" font-size="7.1" text-anchor="end" fill="#111">60</text>
<line x1="390.3" y1="765.0" x2="393.3" y2="765.0" stroke="#111" stroke-width="1.3"/>
<text x="386.9" y="766.9" font-family="Liberation Sans, sans-serif" font-weight="bold" stroke="#111" stroke-width="0.12" font-size="7.1" text-anchor="end" fill="#111">30</text>
<line x1="390.3" y1="817.2" x2="393.3" y2="817.2" stroke="#111" stroke-width="1.3"/>
<text x="386.9" y="819.1" font-family="Liberation Sans, sans-serif" font-weight="bold" stroke="#111" stroke-width="0.12" font-size="7.1" text-anchor="end" fill="#111">0</text>
<line x1="455.4" y1="817.2" x2="455.4" y2="820.2" stroke="#111" stroke-width="1.2"/>
<line x1="518.6" y1="817.2" x2="518.6" y2="820.2" stroke="#111" stroke-width="1.2"/>
<rect x="403.3" y="812.5" width="13.5" height="4.7" fill="#fff" stroke="#151515" stroke-width="1.35"/>
<rect x="407.4" y="810.8" width="5.4" height="2.3" rx="0.8" fill="#151515"/>
<rect x="416.8" y="777.2" width="14.9" height="40.0" fill="url(#hatch)" stroke="#151515" stroke-width="1.35"/>
<path d="M424.2 773.3V780.9" stroke="#111" stroke-width="1" fill="none"/><path d="M421.6 773.7H426.9M421.6 780.5H426.9" stroke="#111" stroke-width="1.15" fill="none"/>
<rect x="431.7" y="728.1" width="14.9" height="89.1" fill="url(#gbar2)" stroke="#151515" stroke-width="1.35"/>
<path d="M439.1 714.4V741.4" stroke="#111" stroke-width="1" fill="none"/><path d="M436.5 714.8H441.8M436.5 741.0H441.8" stroke="#111" stroke-width="1.15" fill="none"/>
<rect x="466.3" y="807.3" width="13.9" height="9.9" fill="#fff" stroke="#151515" stroke-width="1.35"/>
<rect x="470.6" y="805.6" width="5.4" height="2.3" rx="0.8" fill="#151515"/>
<rect x="480.4" y="701.8" width="14.2" height="115.4" fill="url(#hatch)" stroke="#151515" stroke-width="1.35"/>
<path d="M487.5 699.3V703.4" stroke="#111" stroke-width="1" fill="none"/><path d="M484.9 699.7H490.1M484.9 703.0H490.1" stroke="#111" stroke-width="1.15" fill="none"/>
<rect x="494.6" y="682.1" width="14.6" height="135.1" fill="url(#gbar2)" stroke="#151515" stroke-width="1.35"/>
<path d="M501.9 674.7V688.6" stroke="#111" stroke-width="1" fill="none"/><path d="M499.3 675.1H504.5M499.3 688.2H504.5" stroke="#111" stroke-width="1.15" fill="none"/>
<text x="425.2" y="829.1" font-family="Liberation Sans, sans-serif" font-weight="bold" stroke="#111" stroke-width="0.3" font-size="6.7" text-anchor="middle" fill="#111">CEM/VLB</text>
<text x="487" y="829.1" font-family="Liberation Sans, sans-serif" font-weight="bold" stroke="#111" stroke-width="0.3" font-size="6.7" text-anchor="middle" fill="#111">VLB/Apaf-1</text>
<rect x="408" y="672.6" width="5.4" height="5.4" fill="#fff" stroke="#222" stroke-width="1.1"/>
<text x="417.2" y="678.3" font-family="Liberation Sans, sans-serif" font-weight="bold" stroke="#111" stroke-width="0.3" font-size="9.3" fill="#111">0</text>
<rect x="408" y="686.6" width="5.4" height="5.4" fill="url(#hatch)" stroke="#222" stroke-width="1.1"/>
<text x="417.2" y="692.3" font-family="Liberation Sans, sans-serif" font-weight="bold" stroke="#111" stroke-width="0.3" font-size="9.3" fill="#111">4 hr</text>
<rect x="408" y="700.9" width="5.4" height="5.4" fill="url(#gbar2)" stroke="#222" stroke-width="1.1"/>
<text x="417.2" y="706.6" font-family="Liberation Sans, sans-serif" font-weight="bold" stroke="#111" stroke-width="0.3" font-size="9.3" fill="#111">8 hr</text>
<text transform="translate(373.2,771.6) rotate(-90)" font-family="Liberation Sans, sans-serif" font-weight="bold" stroke="#111" stroke-width="0.3" font-size="7.5" textLength="66" lengthAdjust="spacingAndGlyphs" fill="#111">% Apoptotic cells</text>
<text x="483.3" y="696.4" font-family="Liberation Sans, sans-serif" font-weight="bold" stroke="#111" stroke-width="0.3" font-size="13.8" text-anchor="middle" fill="#111">*</text>
<text x="498.6" y="669.7" font-family="Liberation Sans, sans-serif" font-weight="bold" stroke="#111" stroke-width="0.3" font-size="13.8" text-anchor="middle" fill="#111">*</text>
<polygon points="52.8,251.2 54.8,256.5 60.4,256.7 56.0,260.2 57.5,265.7 52.8,262.6 48.1,265.7 49.6,260.2 45.2,256.7 50.8,256.5" fill="#111"/>
<polygon points="56.9,585.6 58.9,590.8 64.4,591.1 60.1,594.5 61.5,599.9 56.9,596.8 52.3,599.9 53.7,594.5 49.4,591.1 54.9,590.8" fill="#111"/>
<polygon points="45.2,274 59.6,274 64.2,279.1 59.6,284.2 45.2,284.2 50.2,279.1" fill="#111"/>
<path d="M40 572.1H64" stroke="#222" stroke-width="0.95" fill="none"/><polygon points="68.8,572.1 62.6,569.3 62.6,574.9" fill="#111"/>
<g fill="#161616" filter="url(#soft)">
<path d="M77.5 259.8C80 257.8 86 257.4 90 256.8C94 255.6 98 255.4 100 256.6C103 258.6 105 259.4 108 259.5C116 259.6 126 259.8 132 259.4C137 257 152 256.8 158.4 260.4C161.4 263.6 158 267.8 150 268.3C142 268.7 136 266.6 132 264.4C124 264.8 112 264.6 106 263.8C100 264.4 94 264.6 90 264C84 263.2 79 262 77.5 259.8Z"/>
<ellipse cx="78.7" cy="274.4" rx="0.7" ry="1.6" />
<ellipse cx="78.5" cy="279.7" rx="0.5" ry="1.7" />
<rect x="106.7" y="273.4" width="25.0" height="6.8" rx="12.2" ry="3.4"/>
<rect x="110.6" y="283.6" width="16.4" height="1.8" rx="3.2" ry="0.9"/>
<rect x="134.6" y="277.0" width="20.2" height="2.0" rx="3.6" ry="1.0"/>
<rect x="166" y="279.5" width="20" height="5" fill="#9c9c9c"/>
<rect x="160.6" y="274.6" width="29.6" height="6.6" rx="11.9" ry="3.3"/>
<rect x="162.0" y="282.9" width="26.6" height="4.9" rx="8.8" ry="2.5"/>
<ellipse cx="249.4" cy="257.7" rx="15.6" ry="3.9" />
<rect x="262" y="257.6" width="34" height="1.8"/>
<ellipse cx="308.5" cy="259.3" rx="16.2" ry="4.7" />
<ellipse cx="308" cy="263.6" rx="2.4" ry="1.6" />
<rect x="264.0" y="269.2" width="29.0" height="4.0" rx="7.2" ry="2.0"/>
<rect x="264.6" y="275.9" width="32.4" height="3.4" rx="6.1" ry="1.7"/>
<rect x="323.0" y="271.6" width="32.4" height="4.8" rx="8.6" ry="2.4"/>
<rect x="325.0" y="278.4" width="25.8" height="3.0" rx="5.4" ry="1.5"/>
<ellipse cx="233.8" cy="270.8" rx="0.7" ry="0.7" />
<ellipse cx="323.7" cy="253" rx="0.6" ry="0.6" />
<ellipse cx="285" cy="255" rx="0.6" ry="0.6" />
<rect x="393.5" y="253.8" width="31.9" height="6.6" rx="11.9" ry="3.3"/>
<rect x="454.0" y="255.4" width="34.5" height="5.8" rx="10.4" ry="2.9"/>
<rect x="425.8" y="271.0" width="30.4" height="3.6" rx="6.5" ry="1.8"/>
<rect x="427.0" y="278.0" width="27.0" height="2.6" rx="4.7" ry="1.3"/>
<rect x="487.7" y="270.4" width="31.0" height="4.2" rx="7.6" ry="2.1"/>
<rect x="496.3" y="278.0" width="20.5" height="2.6" rx="4.7" ry="1.3"/>
<ellipse cx="390.8" cy="279.0" rx="0.5" ry="2.7" />
<ellipse cx="481.5" cy="273.8" rx="1" ry="0.9" />
<path d="M78.4 574C82 571.2 96 571.6 104 572C112 570.6 124 571 132 571.8C140 570.6 152 571.4 160 572.4C168 572 176 573.6 181 575.6C184 574.6 187.4 575.4 187 577C184 579 178 578.4 174 577.6C166 577.6 158 577.4 152 576.6C144 577.6 132 577.2 126 576.6C116 577.6 104 577.4 98 576.8C90 577.6 80 577 78.4 574Z"/>
<rect x="83.0" y="591.6" width="19.6" height="4.4" rx="7.9" ry="2.2"/>
<rect x="110.7" y="592.6" width="17.3" height="2.2" rx="4.0" ry="1.1"/>
<rect x="135.3" y="590.2" width="21.7" height="4.8" rx="8.6" ry="2.4"/>
<rect x="146.0" y="591.6" width="11.0" height="4.0" rx="5.5" ry="2.0"/>
<rect x="173.8" y="593.6" width="6.6" height="1.3" rx="2.3" ry="0.6"/>
<path d="M237.8 572.4C242 569.6 262 569.4 271 571.8C276 568.2 294 568.2 301.3 572.4C308 571.4 322 571.4 328.8 572.5C334 569.6 354 569.2 360 573.6C361 578 350 580 342 579.6C336 579.4 331 578.4 328.8 577.8C322 579.2 308 579.2 301.3 577C294 578.8 278 578.6 271 576.2C262 578.4 244 578.2 237.8 572.4Z"/>
<rect x="242.5" y="591.4" width="22.2" height="3.4" rx="6.1" ry="1.7"/>
<rect x="273.8" y="591.4" width="9.6" height="2.6" rx="4.7" ry="1.3"/>
<ellipse cx="290" cy="592.6" rx="0.9" ry="0.7" />
<rect x="303.9" y="590.6" width="22.2" height="4.8" rx="8.6" ry="2.4"/>
<ellipse cx="337.9" cy="593.6" rx="0.8" ry="0.8" />
<path d="M395.6 573.6C397 571.2 410 570.8 428 571.4C434 569.8 444 570 450 571.8C456 573.4 470 573.4 488 572.8C498 571.8 510 571.4 518.7 573.4C518 576.6 508 576.8 490 577C478 578.4 462 578.4 452 577.6C446 576.4 434 576.4 428 576.8C414 577.4 398 577.2 395.6 573.6Z"/>
<rect x="399.4" y="592.8" width="26.4" height="3.2" rx="5.8" ry="1.6"/>
<rect x="460.8" y="593.2" width="26.2" height="4.4" rx="7.9" ry="2.2"/>
</g>
</svg>
</body></html>
